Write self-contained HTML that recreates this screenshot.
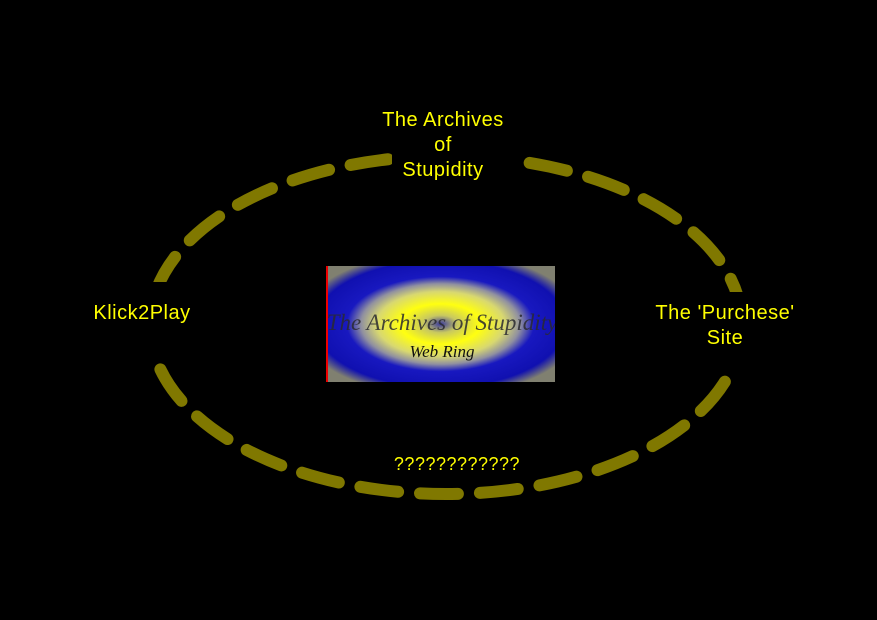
<!DOCTYPE html>
<html><head><meta charset="utf-8"><style>
html,body{margin:0;padding:0;background:#000;width:877px;height:620px;overflow:hidden}
.t{position:absolute;color:#ffff00;font-family:"Liberation Sans",sans-serif;font-size:20px;text-align:center;line-height:25px;letter-spacing:0.5px}
</style></head><body>
<svg width="877" height="620" style="position:absolute;left:0;top:0">
<defs>
<radialGradient id="g" cx="50%" cy="50%" r="62%">
<stop offset="0" stop-color="#3a3aa0"/>
<stop offset="0.12" stop-color="#c8c860"/>
<stop offset="0.28" stop-color="#ffff10"/>
<stop offset="0.45" stop-color="#d8d870"/>
<stop offset="0.56" stop-color="#9090a0"/>
<stop offset="0.66" stop-color="#1818c0"/>
<stop offset="0.88" stop-color="#1010b0"/>
<stop offset="1" stop-color="#808070"/>
</radialGradient>
<clipPath id="c"><rect x="326" y="266" width="229" height="116"/></clipPath>
</defs>
<ellipse cx="446" cy="325" rx="296" ry="169" fill="none" stroke="#807800" stroke-width="12" stroke-linecap="round" stroke-dasharray="38 22"/>
<rect x="70" y="282" width="140" height="76" fill="#000"/>
<rect x="640" y="292" width="170" height="80" fill="#000"/>
<rect x="392" y="130" width="124" height="60" fill="#000"/>
<rect x="326" y="266" width="229" height="116" fill="url(#g)"/>
<rect x="326" y="266" width="2" height="116" fill="#e00"/>
<g clip-path="url(#c)">
<text x="442" y="330" text-anchor="middle" font-family="Liberation Serif,serif" font-style="italic" font-size="23" fill="#2a2a30" opacity="0.85">The Archives of Stupidity</text>
<text x="442" y="357" text-anchor="middle" font-family="Liberation Serif,serif" font-style="italic" font-size="17" fill="#111">Web Ring</text>
</g>
</svg>
<div class="t" style="left:343px;top:108px;width:200px">The Archives<br>of<br>Stupidity</div>
<div class="t" style="left:72px;top:301px;width:140px">Klick2Play</div>
<div class="t" style="left:630px;top:301px;width:190px">The 'Purchese'<br>Site</div>
<div class="t" style="left:357px;top:452px;width:200px;font-size:18px">????????????</div>
</body></html>
